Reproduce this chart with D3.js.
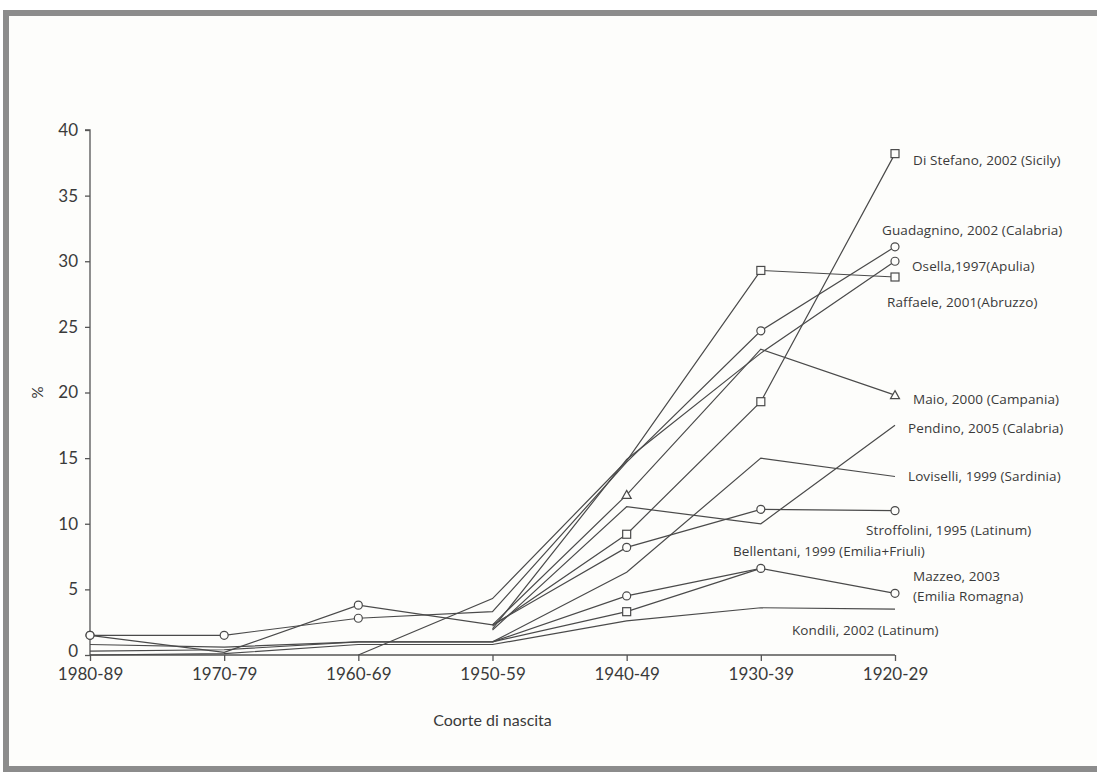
<!DOCTYPE html>
<html>
<head>
<meta charset="utf-8">
<script src="https://cdn.jsdelivr.net/npm/d3@7"></script>
<style>
  html, body { margin: 0; padding: 0; background: #ffffff; }
  svg { display: block; }
  text { font-family: Lato, "Open Sans", sans-serif; fill: #3a3a3a; }
</style>
</head>
<body>
<svg id="chart" width="1097" height="778"></svg>
<script>
// Birth cohorts, youngest on the left
const cohorts = ["1980-89", "1970-79", "1960-69", "1950-59", "1940-49", "1930-39", "1920-29"];
const yTicks = [0, 5, 10, 15, 20, 25, 30, 35, 40];

// Prevalence (%) by cohort for each study; null = cohort not reported
const diStefano   = [null, null, null, 2.2, 9.2, 19.3, 38.2];
const guadagnino  = [1.5, 1.5, 2.8, 3.3, 14.7, 24.7, 31.1];
const osella      = [null, null, null, 2.0, 14.9, 23.0, 30.0];
const raffaele    = [null, null, 0.0, 4.3, 14.8, 29.3, 28.8];
const maio        = [null, null, null, 2.3, 12.2, 23.3, 19.8];
const pendino     = [null, null, null, 1.9, 11.3, 10.0, 17.5];
const loviselli   = [0.8, 0.6, 1.0, 1.0, 6.3, 15.0, 13.6];
const stroffolini = [1.5, 0.2, 3.8, 2.3, 8.2, 11.1, 11.0];
const bellentani  = [0.3, 0.4, 1.0, 1.0, 3.3, 6.6, null];
const mazzeo      = [null, null, null, 1.0, 4.5, 6.6, 4.7];
const kondili     = [0.0, 0.1, 0.8, 0.8, 2.6, 3.6, 3.5];

// Which cohorts carry a symbol (1) in each series
const diStefanoMarks   = [0, 0, 0, 0, 1, 1, 1];
const guadagninoMarks  = [1, 1, 1, 0, 0, 1, 1];
const osellaMarks      = [0, 0, 0, 0, 0, 0, 1];
const raffaeleMarks    = [0, 0, 0, 0, 0, 1, 1];
const maioMarks        = [0, 0, 0, 0, 1, 0, 1];
const pendinoMarks     = [0, 0, 0, 0, 0, 0, 0];
const loviselliMarks   = [0, 0, 0, 0, 0, 0, 0];
const stroffoliniMarks = [1, 0, 1, 0, 1, 1, 1];
const bellentaniMarks  = [0, 0, 0, 0, 1, 0, 0];
const mazzeoMarks      = [0, 0, 0, 0, 1, 1, 1];
const kondiliMarks     = [0, 0, 0, 0, 0, 0, 0];

const seriesNames = ["Di Stefano, 2002 (Sicily)", "Guadagnino, 2002 (Calabria)", "Osella,1997(Apulia)",
  "Raffaele, 2001(Abruzzo)", "Maio, 2000 (Campania)", "Pendino, 2005 (Calabria)",
  "Loviselli, 1999 (Sardinia)", "Stroffolini, 1995 (Latinum)", "Bellentani, 1999 (Emilia+Friuli)",
  "Mazzeo, 2003", "Kondili, 2002 (Latinum)"];
const seriesValues = [diStefano, guadagnino, osella, raffaele, maio, pendino,
  loviselli, stroffolini, bellentani, mazzeo, kondili];
const seriesMarks = [diStefanoMarks, guadagninoMarks, osellaMarks, raffaeleMarks, maioMarks, pendinoMarks,
  loviselliMarks, stroffoliniMarks, bellentaniMarks, mazzeoMarks, kondiliMarks];
const seriesSymbols = ["square", "circle", "circle", "square", "triangle", "none",
  "none", "circle", "square", "circle", "none"];

const svg = d3.select("#chart");
const W = 1097, H = 778;

// Page frame
svg.append("rect").attr("x", 0).attr("y", 0).attr("width", W).attr("height", H).attr("fill", "#ffffff");
svg.append("rect").attr("x", 6).attr("y", 13).attr("width", W + 20).attr("height", 756)
  .attr("fill", "#fdfdfb").attr("stroke", "#8c8c8c").attr("stroke-width", 6);

const margin = { left: 90, right: 202, top: 130, bottom: 123 };
const x = d3.scalePoint().domain(cohorts).range([margin.left, W - margin.right]);
const y = d3.scaleLinear().domain([0, 40]).range([H - margin.bottom, margin.top]);

const axisColor = "#555";

// Y axis
const yAxis = svg.append("g").attr("transform", `translate(${margin.left},0)`)
  .call(d3.axisLeft(y).tickValues(yTicks).tickSize(5).tickPadding(7));
yAxis.select(".domain").attr("stroke", axisColor).attr("stroke-width", 1.3)
  .attr("d", `M-5,${y(40)}H0V${y(0)}`);
yAxis.selectAll(".tick line").attr("stroke", axisColor).attr("stroke-width", 1.3);
yAxis.selectAll(".tick text").style("font-size", "17px").attr("fill", "#3a3a3a")
  .style("font-family", "Lato, sans-serif");
yAxis.selectAll(".tick").filter(d => d === 0).select("text").attr("dy", "0.1em");

// X axis
const xAxis = svg.append("g").attr("transform", `translate(0,${y(0)})`)
  .call(d3.axisBottom(x).tickSize(6).tickPadding(7));
xAxis.select(".domain").attr("stroke", axisColor).attr("stroke-width", 1.3)
  .attr("d", `M${x(cohorts[0])},0H${x(cohorts[cohorts.length - 1])}`);
xAxis.selectAll(".tick line").attr("stroke", axisColor).attr("stroke-width", 1.3);
xAxis.selectAll(".tick text").style("font-size", "17px").attr("fill", "#3a3a3a")
  .style("font-family", "Lato, sans-serif");

// Axis titles
svg.append("text").attr("transform", `translate(38,${y(20)}) rotate(-90)`)
  .attr("text-anchor", "middle").attr("dy", "0.35em").style("font-size", "15px").text("%");
svg.append("text").attr("x", x("1950-59")).attr("y", 726).attr("text-anchor", "middle")
  .style("font-size", "16px").text("Coorte di nascita");

// Lines
const line = d3.line().defined(d => d.v !== null).x(d => x(d.c)).y(d => y(d.v));
seriesValues.forEach(vals => {
  const pts = vals.map((v, j) => ({ c: cohorts[j], v }));
  svg.append("path").datum(pts).attr("d", line)
    .attr("fill", "none").attr("stroke", "#4a4a4a").attr("stroke-width", 1.2);
});

// Symbols
seriesValues.forEach((vals, i) => {
  const kind = seriesSymbols[i];
  if (kind === "none") return;
  const pts = vals.map((v, j) => ({ c: cohorts[j], v, m: seriesMarks[i][j] }))
    .filter(d => d.v !== null && d.m);
  const g = svg.append("g");
  pts.forEach(d => {
    const cx = x(d.c), cy = y(d.v);
    if (kind === "circle") {
      g.append("circle").attr("cx", cx).attr("cy", cy).attr("r", 4)
        .attr("fill", "#fdfdfb").attr("stroke", "#4a4a4a").attr("stroke-width", 1.2);
    } else if (kind === "square") {
      g.append("rect").attr("x", cx - 4).attr("y", cy - 4).attr("width", 8).attr("height", 8)
        .attr("fill", "#fdfdfb").attr("stroke", "#4a4a4a").attr("stroke-width", 1.2);
    } else {
      g.append("path").attr("d", `M${cx},${cy - 4.5}L${cx + 4.5},${cy + 3.5}L${cx - 4.5},${cy + 3.5}Z`)
        .attr("fill", "#fdfdfb").attr("stroke", "#4a4a4a").attr("stroke-width", 1.2);
    }
  });
});

// Series labels
const labelPos = [
  { x: 913, y: 160 }, { x: 882, y: 230 }, { x: 912, y: 266 }, { x: 887, y: 302 },
  { x: 913, y: 399 }, { x: 908, y: 428 }, { x: 908, y: 476 }, { x: 866, y: 530 },
  { x: 733, y: 551 }, { x: 913, y: 576 }, { x: 792, y: 630 }
];
const labelStyle = sel => sel.attr("dy", "0.35em").style("font-size", "13.5px")
  .style("font-family", "'Open Sans', sans-serif").style("letter-spacing", "0.1px");
seriesNames.forEach((name, i) => {
  svg.append("text").attr("x", labelPos[i].x).attr("y", labelPos[i].y).call(labelStyle).text(name);
});
svg.append("text").attr("x", 913).attr("y", 596).call(labelStyle).text("(Emilia Romagna)");
</script>
</body>
</html>
